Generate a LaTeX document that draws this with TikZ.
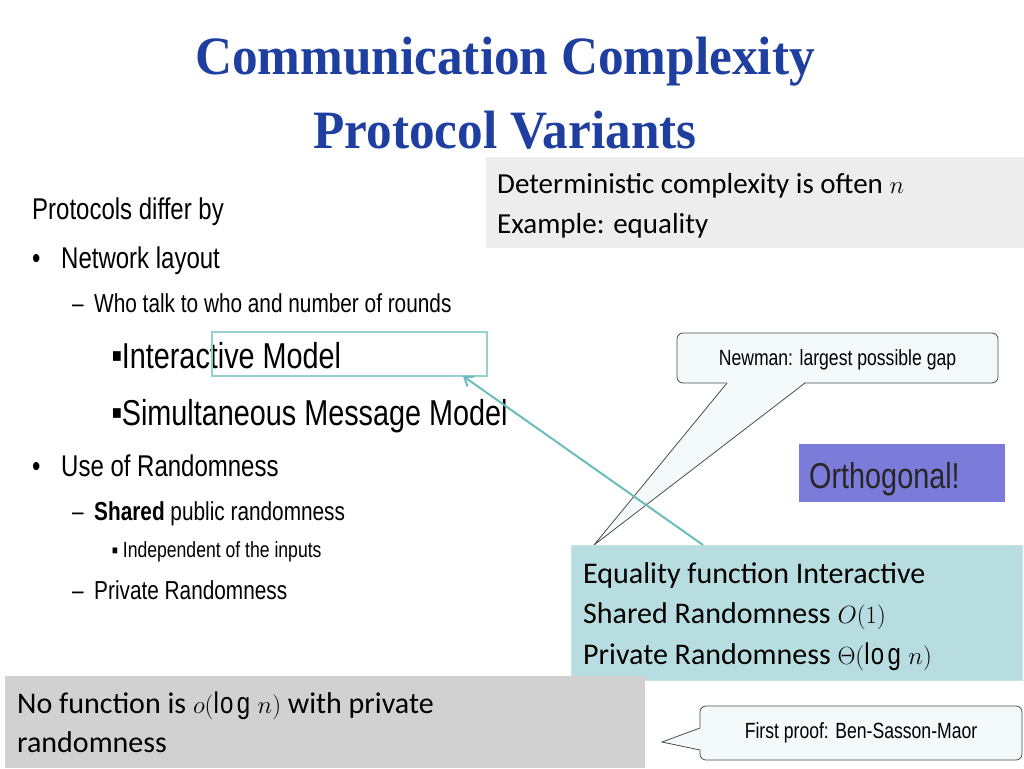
\documentclass[tikz,border=0pt]{standalone}
\usepackage{fontspec}
\usetikzlibrary{arrows.meta}
\setmainfont{Liberation Sans}[FakeStretch=0.8]
\newfontfamily\calfont{Carlito}
\newfontfamily\ttlfont{Liberation Serif}[FakeStretch=0.95]
\definecolor{ttlblue}{HTML}{1E3FA0}
\definecolor{tealln}{HTML}{6BBCBC}
\definecolor{tealbox}{HTML}{B8DDE0}
\definecolor{purp}{HTML}{7B7BD9}
\definecolor{callfill}{HTML}{F4FAFA}
\begin{document}
\begin{tikzpicture}[x=1pt,y=-1pt,
  txt/.style={anchor=base west,inner sep=0pt},
  callout/.style={draw=black!70,fill=callfill,rounded corners=6pt,line width=0.8pt}]
\useasboundingbox (0,0) rectangle (1024,768);
% title
\node[inner sep=0pt,text=ttlblue,font=\ttlfont\bfseries\fontsize{54}{60}\selectfont] (t1) at (505,62) {Communication Complexity};
\node[inner sep=0pt,text=ttlblue,font=\ttlfont\bfseries\fontsize{54}{60}\selectfont] (t2) at (505,130) {Protocol Variants};
% gray box
\fill[black!7] (486,157) rectangle (1024,248);
\node[txt,font=\calfont\fontsize{29}{32}\selectfont] (d1) at (497,193) {Deterministic complexity is often $n$};
\node[txt,font=\calfont\fontsize{29}{32}\selectfont] (d2) at (497,233) {Example: equality};
% left text
\node[txt,font=\fontsize{30}{34}\selectfont] (p0) at (32,219) {Protocols differ by};
\node[txt,font=\fontsize{30}{34}\selectfont] (b1) at (32,268) {•};
\node[txt,font=\fontsize{30}{34}\selectfont] (p1) at (61,268) {Network layout};
\node[txt,font=\fontsize{26}{30}\selectfont] (dd1) at (72,312) {–};
\node[txt,font=\fontsize{26}{30}\selectfont] (p2) at (94,312) {Who talk to who and number of rounds};
\node[txt,font=\fontsize{36}{40}\selectfont] (p3) at (112,368) {\fontsize{20}{20}\selectfont\raisebox{6pt}{■}\fontsize{36}{40}\selectfont Interactive Model};
\node[txt,font=\fontsize{36}{40}\selectfont] (p4) at (112,425) {\fontsize{20}{20}\selectfont\raisebox{6pt}{■}\fontsize{36}{40}\selectfont Simultaneous Message Model};
\node[txt,font=\fontsize{30}{34}\selectfont] (b2) at (32,476) {•};
\node[txt,font=\fontsize{30}{34}\selectfont] (p5) at (61,476) {Use of Randomness};
\node[txt,font=\fontsize{26}{30}\selectfont] (dd2) at (72,520) {–};
\node[txt,font=\fontsize{26}{30}\selectfont] (p6) at (94,520) {\textbf{Shared} public randomness};
\node[txt,font=\fontsize{22}{26}\selectfont] (p7) at (112,557) {\fontsize{12}{12}\selectfont\raisebox{3pt}{■}\fontsize{22}{26}\selectfont\ Independent of the inputs};
\node[txt,font=\fontsize{26}{30}\selectfont] (dd3) at (72,599) {–};
\node[txt,font=\fontsize{26}{30}\selectfont] (p8) at (94,599) {Private Randomness};
% teal outline
\node[draw=tealln!70,line width=2pt,minimum width=275pt,minimum height=44pt,inner sep=0pt] (hl) at (349.5,354) {};
% Newman callout
\node[callout,minimum width=321pt,minimum height=50pt,inner sep=0pt] (nw) at (837.5,358) {};
\coordinate (tip1) at (594,545);
\fill[callfill] (727,382) -- (tip1) -- (805,382) -- cycle;
\draw[black!70,line width=0.8pt] (727,383) -- (tip1) -- (805,383);
\node[font=\fontsize{22}{26}\selectfont] (nwt) at (837.5,360) {Newman: largest possible gap};
% orthogonal
\node[fill=purp,minimum width=206pt,minimum height=58pt,inner sep=0pt] (orth) at (902,473) {};
\node[txt,font=\fontsize{36}{40}\selectfont,text=black!85] (ortht) at (809,488) {Orthogonal!};
% teal box
\node[fill=tealbox,draw=tealbox!80!white,minimum width=451pt,minimum height=135pt,inner sep=0pt] (eq) at (796.5,612.5) {};
\node[txt,font=\calfont\fontsize{30}{34}\selectfont] (e1) at (583,583) {Equality function Interactive};
\node[txt,font=\calfont\fontsize{30}{34}\selectfont] (e2) at (583,623) {Shared Randomness $O(1)$};
\node[txt,font=\calfont\fontsize{30}{34}\selectfont] (e3) at (583,664) {Private Randomness $\Theta(\log n)$};
% arrow
\coordinate (as) at (703,545);
\draw[tealln,line width=2pt,-{Straight Barb[length=8pt,width=12pt]}] (as) -- (463,376);
% bottom gray
\fill[black!18] (5,676) rectangle (645,768);
\node[txt,font=\calfont\fontsize{30}{34}\selectfont] (n1) at (17,713) {No function is $o(\log n)$ with private};
\node[txt,font=\calfont\fontsize{30}{34}\selectfont] (n2) at (17,752) {randomness};
% first proof callout
\node[callout,minimum width=322pt,minimum height=54pt,inner sep=0pt] (fp) at (861,733) {};
\coordinate (tip2) at (662,742);
\fill[callfill] (701,728) -- (tip2) -- (701,750) -- cycle;
\draw[black!70,line width=0.8pt] (700,728) -- (tip2) -- (700,750);
\node[font=\fontsize{22}{26}\selectfont] (fpt) at (861,733) {First proof: Ben-Sasson-Maor};
\end{tikzpicture}
\end{document}
